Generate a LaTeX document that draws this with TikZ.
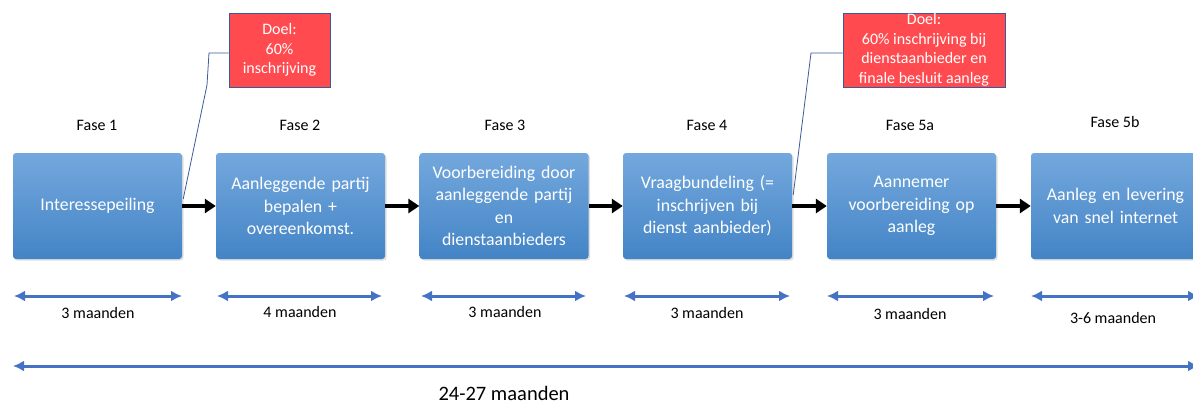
\documentclass[tikz,border=0pt]{standalone}
\usepackage{fontspec}
\setmainfont{Carlito}
\usetikzlibrary{arrows.meta,shadows,calc}
\definecolor{fasetop}{HTML}{74A8DD}
\definecolor{fasebot}{HTML}{4384C6}
\definecolor{doelrood}{HTML}{FF4B4F}
\definecolor{doelrand}{HTML}{3A5A9C}
\definecolor{tijdblauw}{HTML}{4472C4}
\tikzstyle{every node}=[font=\fontsize{16}{19}\selectfont]
\tikzstyle{fase}=[rounded corners=3pt,top color=fasetop,bottom color=fasebot,
    minimum width=169pt,minimum height=106pt,text width=166pt,align=center,
    text=white,inner sep=0pt,font=\fontsize{17.8}{22.5}\selectfont,
    drop shadow={opacity=0.25,shadow xshift=1.5pt,shadow yshift=-1.5pt}]
\tikzstyle{doel}=[fill=doelrood,draw=doelrand,line width=0.8pt,text=white,
    align=center,inner sep=0pt,minimum height=74pt,
    font=\fontsize{16}{19.5}\selectfont]
\tikzstyle{stap}=[line width=3.8pt,-{Triangle[length=11pt,width=14pt]}]
\tikzstyle{duur}=[tijdblauw,line width=3pt,
    {Latex[length=11pt,width=11pt]}-{Latex[length=11pt,width=11pt]}]
\tikzstyle{callout}=[doelrand,line width=0.8pt]

\begin{document}
\begin{tikzpicture}[x=1pt,y=-1pt]
    \useasboundingbox (0,0) rectangle (1193,405);

    % Phase boxes
    \node[fase] (f1) at (97.5,206) {Interessepeiling};
    \node[fase] (f2) at (300.5,206) {Aanleggende partij\\bepalen +\\overeenkomst.};
    \node[fase] (f3) at (504,206) {Voorbereiding door\\aanleggende partij\\en\\dienstaanbieders};
    \node[fase] (f4) at (707.5,206) {Vraagbundeling (=\\inschrijven bij\\dienst aanbieder)};
    \node[fase] (f5) at (911.5,206) {Aannemer\\voorbereiding op\\aanleg};
    \node[fase] (f6) at (1115.5,206) {Aanleg en levering\\van snel internet};

    % Phase titles
    \node (t1) at (97,125) {Fase 1};
    \node (t2) at (300,125) {Fase 2};
    \node (t3) at (505,125) {Fase 3};
    \node (t4) at (707,125) {Fase 4};
    \node (t5) at (910,125) {Fase 5a};
    \node (t6) at (1115,122) {Fase 5b};

    % Steps between the phases
    \draw[stap] (f1) -- (f2);
    \draw[stap] (f2) -- (f3);
    \draw[stap] (f3) -- (f4);
    \draw[stap] (f4) -- (f5);
    \draw[stap] (f5) -- (f6);

    % Goals
    \node[doel,minimum width=101pt] (doelA) at (279.5,50) {Doel:\\60\%\\inschrijving};
    \node[doel,minimum width=162pt] (doelB) at (924,50)
        {Doel:\\60\% inschrijving bij\\dienstaanbieder en\\finale besluit aanleg};
    \coordinate (kA1) at (207,85);
    \coordinate (kA2) at (209,53);
    \coordinate (kB1) at (811,53);
    \draw[callout] ($(f1.east)+(1,-7)$) -- (kA1) -- (kA2) -- (doelA.west |- kA2);
    \draw[callout] ($(f4.east)+(1,-11)$) -- (kB1) -- (doelB.west |- kB1);

    % Durations
    \draw[duur] (14,296) -- (182,296);
    \draw[duur] (217,296) -- (382,296);
    \draw[duur] (421,296) -- (586,296);
    \draw[duur] (624,296) -- (790,296);
    \draw[duur] (827,296) -- (994,296);
    \draw[duur] (1031,296) -- (1199,296);
    \node (m1) at (98,313) {3 maanden};
    \node (m2) at (300,312) {4 maanden};
    \node (m3) at (505,312) {3 maanden};
    \node (m4) at (707,313) {3 maanden};
    \node (m5) at (910,314) {3 maanden};
    \node (m6) at (1113,318) {3-6 maanden};

    % Total
    \draw[duur] (13,366) -- (1199,366);
    \node[font=\fontsize{20.5}{24}\selectfont] (totaal) at (504,393) {24-27 maanden};
\end{tikzpicture}
\end{document}
